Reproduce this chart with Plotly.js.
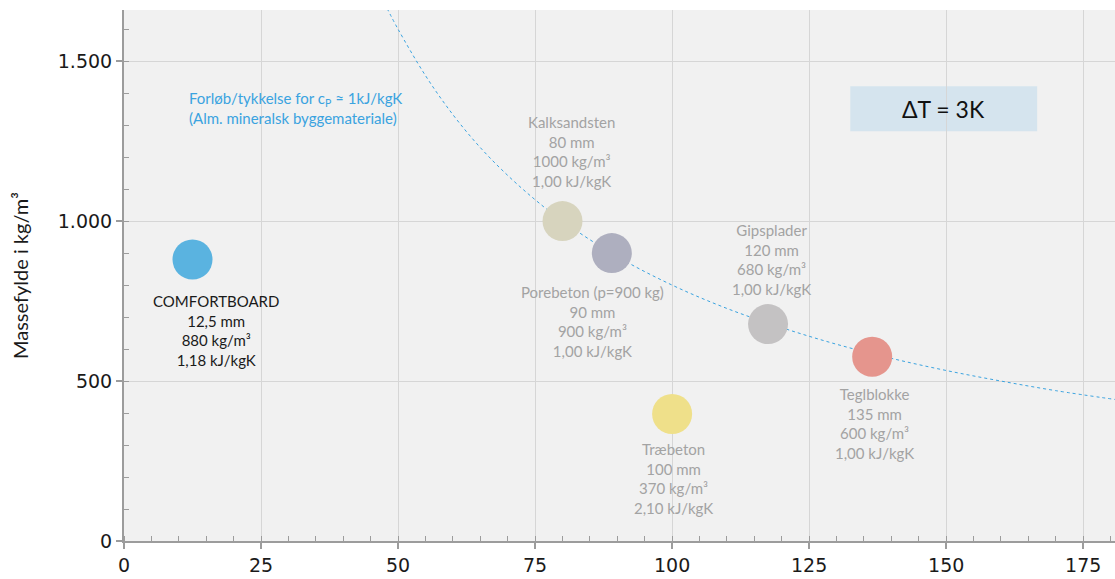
<!DOCTYPE html>
<html>
<head>
<meta charset="utf-8">
<script src="https://cdn.plot.ly/plotly-3.0.1.min.js"></script>
<style>html,body{margin:0;padding:0;background:#fff;}#chart{width:1115px;height:579px;}</style>
</head>
<body>
<div id="chart"></div>
<script>
// Materials (bubble positions)
const materials = ["COMFORTBOARD", "Kalksandsten", "Porebeton (p=900 kg)", "Gipsplader", "Teglblokke", "Træbeton"];
const thickness = [12.5, 80, 89, 117.5, 136.5, 100];          // x: mm
const density   = [880, 1000, 900, 678, 576, 397];             // y: kg/m3
const colors    = ["#5ab3e0", "#d7d4be", "#aeafbf", "#c4c2c3", "#e5958d", "#efe08a"];
const labelLines = [
  ["COMFORTBOARD", "12,5 mm", "880 kg/m³", "1,18 kJ/kgK"],
  ["Kalksandsten", "80 mm", "1000 kg/m³", "1,00 kJ/kgK"],
  ["Porebeton (p=900 kg)", "90 mm", "900 kg/m³", "1,00 kJ/kgK"],
  ["Gipsplader", "120 mm", "680 kg/m³", "1,00 kJ/kgK"],
  ["Teglblokke", "135 mm", "600 kg/m³", "1,00 kJ/kgK"],
  ["Træbeton", "100 mm", "370 kg/m³", "2,10 kJ/kgK"]
];
// Dashed reference curve
const curveX = [48, 50, 55, 60, 65, 70, 75, 80, 90, 100, 110, 120, 130, 140, 150, 160, 170, 181];
const curveY = [1665, 1600, 1455, 1333, 1230, 1143, 1067, 1000, 889, 800, 727, 667, 615, 571, 533, 500, 470, 442];
// Tick labels
const yTickVals = [0, 500, 1000, 1500];
const yTickText = ["0", "500", "1.000", "1.500"];
const xTickVals = [0, 25, 50, 75, 100, 125, 150, 175];

// label block anchor positions (layout)
const labelPos = [[16.8, 658], [81.6, 1217], [85.4, 686], [118.1, 880], [137.0, 368], [100.2, 195]];
const labelColors = ["#1a1a1a", "#a3a3a3", "#a3a3a3", "#a3a3a3", "#a3a3a3", "#a3a3a3"];

const FONT = "Lato, 'Noto Sans', sans-serif";
const TICKFONT = "'DejaVu Sans', sans-serif";

const traces = [
  {
    x: curveX, y: curveY, type: "scatter", mode: "lines",
    line: {color: "#3aa3e0", width: 1, dash: "3px,3px", shape: "spline"},
    hoverinfo: "skip", showlegend: false
  },
  {
    x: thickness, y: density, type: "scatter", mode: "markers",
    text: materials,
    marker: {size: 40, color: colors, line: {width: 0}, opacity: 1},
    showlegend: false
  }
];

const annotations = labelLines.map((lines, i) => ({
  x: labelPos[i][0], y: labelPos[i][1], xref: "x", yref: "y",
  text: lines.join("<br>"), showarrow: false,
  xanchor: "center", yanchor: "middle", align: "center",
  font: {family: FONT, size: 15, color: labelColors[i]}
}));
annotations.push({
  x: 11.5, y: 1353, xref: "x", yref: "y", xanchor: "left", yanchor: "middle", align: "left",
  showarrow: false,
  text: "Forløb/tykkelse for c<sub>P</sub> ≈ 1kJ/kgK<br>(Alm. mineralsk byggemateriale)",
  font: {family: FONT, size: 15, color: "#3aa3e0"}
});
annotations.push({
  x: 149.5, y: 1351, xref: "x", yref: "y", xanchor: "center", yanchor: "middle",
  showarrow: false, text: "ΔT = 3K",
  font: {family: FONT, size: 23, color: "#111"}
});

const layout = {
  width: 1115, height: 579,
  margin: {l: 124, r: 0, t: 10, b: 38},
  paper_bgcolor: "#ffffff", plot_bgcolor: "#f1f1f1",
  font: {family: FONT, color: "#222"},
  showlegend: false,
  xaxis: {
    range: [0, 180.8], tickvals: xTickVals,
    showgrid: true, gridcolor: "#d6d6d6", gridwidth: 1,
    zeroline: false, showline: true, linecolor: "#9c9c9c", linewidth: 2,
    ticks: "outside", ticklen: 6, tickwidth: 1.5, tickcolor: "#9c9c9c",
    tickfont: {family: TICKFONT, size: 19, color: "#1a1a1a"},
    minor: {dtick: 5, ticks: "inside", ticklen: 5, tickwidth: 1, tickcolor: "#9c9c9c", showgrid: false},
    fixedrange: true
  },
  yaxis: {
    range: [0, 1660], tickvals: yTickVals, ticktext: yTickText,
    showgrid: true, gridcolor: "#d6d6d6", gridwidth: 1,
    zeroline: false, showline: true, linecolor: "#9c9c9c", linewidth: 2,
    ticks: "outside", ticklen: 6, tickwidth: 1.5, tickcolor: "#9c9c9c",
    tickfont: {family: TICKFONT, size: 19, color: "#1a1a1a"},
    minor: {dtick: 100, ticks: "inside", ticklen: 5, tickwidth: 1, tickcolor: "#9c9c9c", showgrid: false},
    title: {text: "Massefylde i kg/m³", font: {family: FONT, size: 20, color: "#1a1a1a"}, standoff: 24},
    fixedrange: true
  },
  shapes: [{
    type: "rect", xref: "x", yref: "y", x0: 132.5, x1: 166.6, y0: 1281, y1: 1422,
    fillcolor: "#d5e4ee", line: {width: 0}, layer: "below"
  }],
  annotations: annotations
};

Plotly.newPlot("chart", traces, layout, {displayModeBar: false, staticPlot: true});
</script>
</body>
</html>
